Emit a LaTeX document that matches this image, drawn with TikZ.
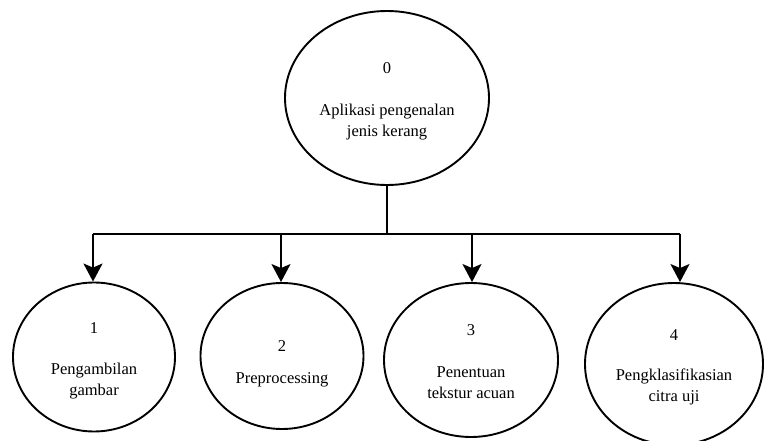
\documentclass[tikz,border=0pt]{standalone}
\usepackage{fontspec}
\setmainfont{Liberation Serif}
\usetikzlibrary{arrows.meta,shapes.geometric}
\begin{document}
\begin{tikzpicture}[x=1pt,y=-1pt,
  proc/.style={draw,line width=1.9pt,ellipse,inner sep=0pt},
  lbl/.style={font=\fontsize{16.5}{21}\selectfont,align=center,inner sep=0pt},
  wire/.style={line width=1.9pt},
  arr/.style={line width=1.9pt,-{Stealth[length=18pt,width=19pt,inset=4pt]}}]
\useasboundingbox (0,0) rectangle (764,441);
% top process
\node[proc,minimum width=204pt,minimum height=174pt] (e0) at (387,98) {};
\node[lbl] (n0) at (387,68) {0};
\node[lbl] (t0) at (387,122) {Aplikasi pengenalan\\jenis kerang};
% bottom processes
\node[proc,minimum width=162pt,minimum height=149pt] (e1) at (94,357) {};
\node[lbl] (n1) at (94,328) {1};
\node[lbl] (t1) at (94,381) {Pengambilan\\gambar};
\node[proc,minimum width=163pt,minimum height=146pt] (e2) at (282,356) {};
\node[lbl] (n2) at (282,346) {2};
\node[lbl] (t2) at (282,380) {Preprocessing};
\node[proc,minimum width=174pt,minimum height=154pt] (e3) at (471,360) {};
\node[lbl] (n3) at (471,330) {3};
\node[lbl] (t3) at (471,383) {Penentuan\\tekstur acuan};
\node[proc,minimum width=178pt,minimum height=162pt] (e4) at (674,364) {};
\node[lbl] (n4) at (674,335) {4};
\node[lbl] (t4) at (674,387) {Pengklasifikasian\\citra uji};
% bus
\coordinate (b1) at (93,234);
\coordinate (b2) at (281,234);
\coordinate (b3) at (472,234);
\coordinate (b4) at (680,234);
\draw[wire] (e0.south) -- (e0.south |- b1);
\draw[wire] (b1) -- (b4);
\draw[arr] (b1) -- (b1 |- e1.north);
\draw[arr] (b2) -- (b2 |- e2.north);
\draw[arr] (b3) -- (b3 |- e3.north);
\draw[arr] (b4) -- (b4 |- e4.north);
\end{tikzpicture}
\end{document}
